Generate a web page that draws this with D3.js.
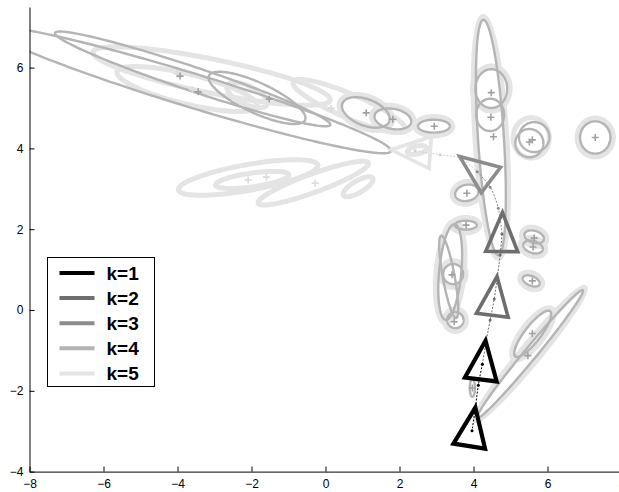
<!DOCTYPE html>
<html>
<head>
<meta charset="utf-8">
<script src="https://cdn.jsdelivr.net/npm/d3@7"></script>
<style>
html, body { margin: 0; padding: 0; background: #fff; }
svg { display: block; font-family: "Liberation Sans", Arial, sans-serif; }
</style>
</head>
<body>
<svg id="chart" width="619" height="492"></svg>
<script>
// ---- data ---------------------------------------------------------------
const xTicks = [-8, -6, -4, -2, 0, 2, 4, 6, 8];
const yTicks = [-4, -2, 0, 2, 4, 6];
const legendLabels = ["k=1", "k=2", "k=3", "k=4", "k=5"];

// covariance ellipses: [cx, cy, semi-major, semi-minor, angle in degrees]
const ellipsesK5 = [
  [-3.08, 5.79, 3.26, 0.42, -10.5],
  [-3.74, 5.47, 1.94, 0.37, -12.6],
  [-2.12, 5.32, 0.59, 0.23, -23],
  [0.64, 5.05, 1.63, 0.30, -21.4],
  [-2.09, 3.28, 1.91, 0.32, 9.2],
  [-1.98, 3.22, 1.00, 0.17, 7.3],
  [-0.33, 3.14, 1.57, 0.23, 18.4],
  [0.88, 3.05, 0.45, 0.15, 28],
  [2.48, 3.96, 0.27, 0.10, 10],
  [1.09, 4.89, 0.75, 0.40, -18.4],
  [1.82, 4.73, 0.58, 0.33, -9.2],
  [2.93, 4.55, 0.51, 0.24, 0],
  [4.47, 4.27, 3.00, 0.43, -86],
  [4.48, 5.48, 0.51, 0.56, 0],
  [5.56, 4.26, 0.49, 0.50, 0],
  [7.29, 4.27, 0.49, 0.48, 0],
  [3.82, 2.90, 0.40, 0.28, 10],
  [3.79, 2.10, 0.38, 0.19, 0],
  [5.64, 1.81, 0.35, 0.23, -15],
  [5.61, 1.56, 0.35, 0.23, -15],
  [5.56, 0.72, 0.32, 0.20, -20],
  [3.37, 0.94, 1.27, 0.38, 84.1],
  [3.45, 0.89, 0.35, 0.33, 0],
  [3.51, -0.25, 0.30, 0.28, 0],
  [5.53, -1.09, 2.21, 0.24, 47.9],
  [5.60, -0.59, 0.81, 0.29, 49.5]
];
const ellipsesK4 = [
  [-3.66, 5.45, 5.64, 0.42, -15.6],
  [-3.59, 5.72, 3.89, 0.30, -17.0],
  [-1.85, 5.25, 1.41, 0.38, -22.7],
  [1.09, 4.89, 0.67, 0.33, -18.4],
  [1.82, 4.73, 0.50, 0.25, -9.2],
  [2.93, 4.55, 0.43, 0.16, 0],
  [4.47, 4.27, 2.92, 0.35, -86],
  [4.48, 5.48, 0.43, 0.48, 0],
  [4.45, 4.83, 0.38, 0.40, 0],
  [5.51, 4.13, 0.38, 0.35, 0],
  [5.64, 4.28, 0.41, 0.37, 0],
  [7.29, 4.27, 0.41, 0.40, 0],
  [3.82, 2.90, 0.32, 0.20, 10],
  [3.79, 2.10, 0.30, 0.11, 0],
  [5.64, 1.81, 0.27, 0.15, -15],
  [5.61, 1.56, 0.27, 0.15, -15],
  [5.56, 0.72, 0.24, 0.12, -20],
  [3.37, 0.94, 1.19, 0.30, 84.1],
  [3.33, 0.82, 1.04, 0.16, -78.7],
  [3.45, 0.89, 0.27, 0.25, 0],
  [3.51, -0.25, 0.22, 0.20, 0],
  [3.97, -1.93, 0.22, 0.07, 90],
  [5.53, -1.09, 2.13, 0.16, 47.9],
  [5.60, -0.59, 0.73, 0.21, 49.5]
];

// component means
const meansK4 = [
  [-3.93, 5.79], [-3.44, 5.40], [-1.52, 5.22], [1.10, 4.88], [1.82, 4.72],
  [2.94, 4.55], [4.48, 5.38], [4.47, 4.77], [4.54, 4.29], [5.51, 4.16],
  [5.59, 4.21], [7.29, 4.27], [3.82, 2.89], [3.80, 2.10], [5.64, 1.78],
  [5.61, 1.56], [5.59, 0.72], [3.42, 0.87], [3.48, -0.29], [5.59, -0.58],
  [5.47, -1.13], [3.97, -1.93]
];
const meansK5 = [
  [-4.01, 5.84], [-3.60, 5.45], [0.15, 4.99], [-2.09, 3.22], [-1.60, 3.29], [-0.28, 3.14]
];

// poses: x, y, heading (degrees), k
const poseX = [2.48, 4.19, 4.77, 4.55, 4.24, 3.94];
const poseY = [3.92, 3.41, 1.77, 0.19, -1.40, -3.05];
const poseHeading = [176, 143, 89, 83, 83, 81];
const poseK = [5, 3, 2, 2, 1, 1];

// estimated track, with the k of the segment leaving each point
const trackX = [2.42, 3.10, 3.64, 4.10, 4.45, 4.67, 4.77, 4.72, 4.64, 4.56, 4.45, 4.34, 4.24, 4.13, 4.05, 3.96];
const trackY = [3.94, 3.84, 3.76, 3.42, 3.04, 2.52, 1.88, 1.36, 0.79, 0.27, -0.25, -0.79, -1.34, -1.86, -2.43, -2.99];
const trackK = [5, 5, 5, 3, 3, 3, 2, 2, 2, 2, 2, 2, 1, 1, 1, 1];

// ---- drawing --------------------------------------------------------------
const kColor = {1: "#000000", 2: "#6e6e6e", 3: "#8c8c8c", 4: "#b4b4b4", 5: "#e4e4e4"};
const plusColor = {4: "#a0a0a0", 5: "#dcdcdc"};

const svg = d3.select("#chart");
const x = d3.scaleLinear().domain([-8, 8]).range([29.5, 621.5]);
const y = d3.scaleLinear().domain([-4, 7.5]).range([471.6, 7]);

svg.append("defs").append("clipPath").attr("id", "plot")
  .append("rect")
  .attr("x", x(-8)).attr("y", y(7.5))
  .attr("width", x(8) - x(-8)).attr("height", y(-4) - y(7.5));

const plot = svg.append("g").attr("clip-path", "url(#plot)");

const lineXY = d3.line().x(p => x(p[0])).y(p => y(p[1]));
function ellipsePath(e) {
  const [cx, cy, a, b, deg] = e;
  const t = deg * Math.PI / 180;
  const pts = d3.range(0, 360, 2).map(d => {
    const u = d * Math.PI / 180;
    const dx = a * Math.cos(u), dy = b * Math.sin(u);
    return [cx + dx * Math.cos(t) - dy * Math.sin(t), cy + dx * Math.sin(t) + dy * Math.cos(t)];
  });
  return lineXY.curve(d3.curveLinearClosed)(pts);
}

plot.append("g").selectAll("path").data(ellipsesK5).join("path")
  .attr("d", ellipsePath)
  .attr("fill", "none").attr("stroke", kColor[5]).attr("stroke-width", 5);

plot.append("g").selectAll("path").data(ellipsesK4).join("path")
  .attr("d", ellipsePath)
  .attr("fill", "none").attr("stroke", kColor[4]).attr("stroke-width", 2.4);

function drawPluses(data, k) {
  plot.append("g").selectAll("path").data(data).join("path")
    .attr("d", d => `M${x(d[0]) - 3.5},${y(d[1])}H${x(d[0]) + 3.5}M${x(d[0])},${y(d[1]) - 3.5}V${y(d[1]) + 3.5}`)
    .attr("stroke", plusColor[k]).attr("stroke-width", 1.6).attr("fill", "none");
}
drawPluses(meansK5, 5);
drawPluses(meansK4, 4);

// track segments
const track = trackX.map((v, i) => [v, trackY[i], trackK[i]]);
const segLine = d3.line().x(p => x(p[0])).y(p => y(p[1])).curve(d3.curveCatmullRom);
const groups = [];
track.forEach((p, i) => {
  if (i === track.length - 1) return;
  const last = groups[groups.length - 1];
  if (last && last.k === p[2]) last.pts.push(track[i + 1]);
  else groups.push({k: p[2], pts: [p, track[i + 1]]});
});
plot.append("g").selectAll("path").data(groups).join("path")
  .attr("d", g => segLine(g.pts))
  .attr("fill", "none")
  .attr("stroke", g => g.k === 5 ? "#d0d0d0" : kColor[g.k])
  .attr("stroke-width", 1)
  .attr("stroke-dasharray", "2,1.5");
plot.append("g").selectAll("circle").data(track).join("circle")
  .attr("cx", p => x(p[0])).attr("cy", p => y(p[1])).attr("r", 1.5)
  .attr("fill", p => p[2] === 5 ? "#d0d0d0" : kColor[p[2]]);

// pose triangles
const poses = poseX.map((v, i) => ({x: v, y: poseY[i], h: poseHeading[i], k: poseK[i]}));
function trianglePoints(p) {
  const cx = x(p.x), cy = y(p.y);
  const h = p.h * Math.PI / 180;
  const ux = Math.cos(h), uy = -Math.sin(h);
  const vx = -uy, vy = ux;
  const apex = [cx + 26 * ux, cy + 26 * uy];
  const b1 = [cx - 13 * ux + 16 * vx, cy - 13 * uy + 16 * vy];
  const b2 = [cx - 13 * ux - 16 * vx, cy - 13 * uy - 16 * vy];
  return [apex, b1, b2].map(q => q.join(",")).join(" ");
}
plot.append("g").selectAll("polygon").data(poses.slice().sort((a, b) => b.k - a.k)).join("polygon")
  .attr("points", trianglePoints)
  .attr("fill", "none")
  .attr("stroke", p => kColor[p.k])
  .attr("stroke-width", p => p.k === 1 ? 4.2 : 3.6)
  .attr("stroke-linejoin", "miter");

// axes
const xAxis = d3.axisBottom(x).tickValues(xTicks).tickSizeInner(-5).tickSizeOuter(0).tickPadding(8);
const yAxis = d3.axisLeft(y).tickValues(yTicks).tickSizeInner(-5).tickSizeOuter(0).tickPadding(6);
const gx = svg.append("g").attr("transform", `translate(0,${y(-4)})`).call(xAxis);
const gy = svg.append("g").attr("transform", `translate(${x(-8)},0)`).call(yAxis);
[gx, gy].forEach(g => {
  g.attr("font-family", "'Liberation Sans', Arial, sans-serif").attr("font-size", 12);
  g.selectAll("path, line").attr("stroke", "#000");
  g.selectAll("text").attr("fill", "#000");
});

// legend
const leg = svg.append("g").attr("transform", "translate(47.5,257.5)");
leg.append("rect").attr("width", 107).attr("height", 129)
  .attr("fill", "#fff").attr("stroke", "#000").attr("stroke-width", 1);
const rows = leg.selectAll("g.row").data(legendLabels).join("g")
  .attr("class", "row")
  .attr("transform", (d, i) => `translate(0,${15.5 + i * 25.1})`);
rows.append("line").attr("x1", 12).attr("x2", 47).attr("y1", 0).attr("y2", 0)
  .attr("stroke", (d, i) => kColor[i + 1]).attr("stroke-width", 4);
rows.append("text").attr("x", 59).attr("y", 0).attr("dy", "0.36em")
  .attr("font-size", 19).attr("font-weight", "bold").attr("fill", "#000")
  .text(d => d);
</script>
</body>
</html>
